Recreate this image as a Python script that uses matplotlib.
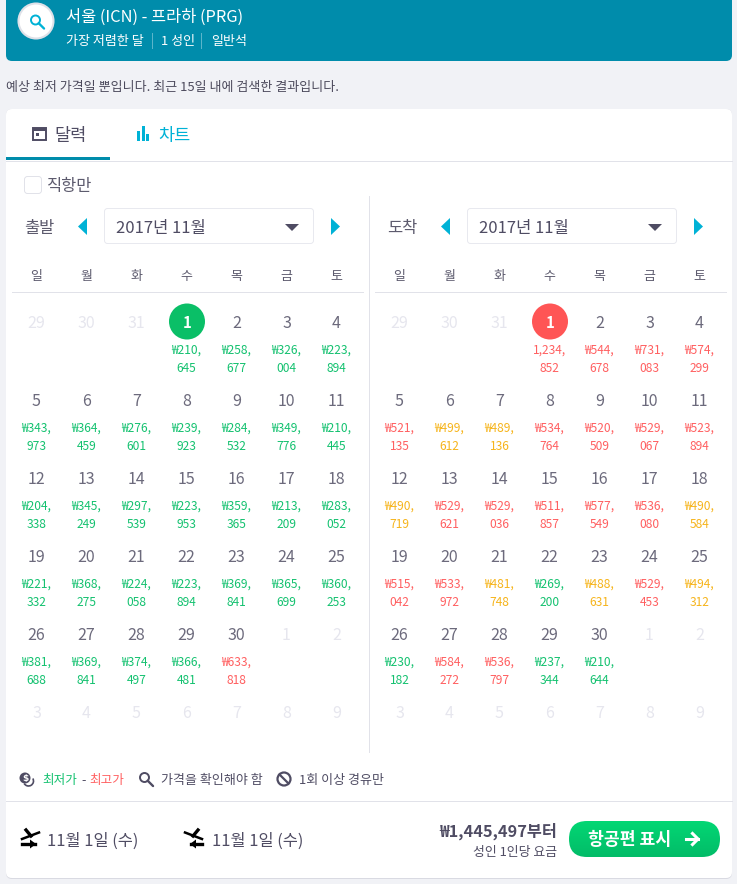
import numpy as np
import matplotlib
matplotlib.use('Agg')
import matplotlib.pyplot as plt
from matplotlib.patches import FancyBboxPatch, Circle, Rectangle, Polygon, Arc

plt.rcParams['font.family'] = ['Noto Sans CJK KR', 'DejaVu Sans']

# Data
weekdays = ['일', '월', '화', '수', '목', '금', '토']
days = [29, 30, 31, 1, 2, 3, 4, 5, 6, 7, 8, 9, 10, 11, 12, 13, 14, 15, 16, 17, 18,
        19, 20, 21, 22, 23, 24, 25, 26, 27, 28, 29, 30, 1, 2, 3, 4, 5, 6, 7, 8, 9]
first_cell = 3
last_cell = 32

depart_prices = ['₩210,645', '₩258,677', '₩326,004', '₩223,894', '₩343,973', '₩364,459',
                 '₩276,601', '₩239,923', '₩284,532', '₩349,776', '₩210,445', '₩204,338',
                 '₩345,249', '₩297,539', '₩223,953', '₩359,365', '₩213,209', '₩283,052',
                 '₩221,332', '₩368,275', '₩224,058', '₩223,894', '₩369,841', '₩365,699',
                 '₩360,253', '₩381,688', '₩369,841', '₩374,497', '₩366,481', '₩633,818']
depart_levels = 'g' * 29 + 'r'

return_prices = ['1,234,852', '₩544,678', '₩731,083', '₩574,299', '₩521,135', '₩499,612',
                 '₩489,136', '₩534,764', '₩520,509', '₩529,067', '₩523,894', '₩490,719',
                 '₩529,621', '₩529,036', '₩511,857', '₩577,549', '₩536,080', '₩490,584',
                 '₩515,042', '₩533,972', '₩481,748', '₩269,200', '₩488,631', '₩529,453',
                 '₩494,312', '₩230,182', '₩584,272', '₩536,797', '₩237,344', '₩210,644']
return_levels = 'rrrr' + 'ryyrrrr' + 'yrrrrry' + 'rrygyry' + 'grrgg'

level_colors = {'g': '#13c16f', 'y': '#f6b41b', 'r': '#ff5f60'}

TEAL = '#008cab'
CYAN = '#00b2d6'
INK = '#4f4c63'
DAY = '#6c6a7c'
FAINT = '#e6e6ee'
LINE = '#e1e2e9'
PX = 0.72


def fs(px):
    return px * PX


def label(ax, x, y, text, size, color=INK, ha='left', weight='normal', z=5):
    # the CJK font sits a little high when centred
    ax.text(x, y + 1.5, text, fontsize=fs(size), color=color, ha=ha, va='center',
            fontweight=weight, zorder=z)


def rounded(ax, x0, y0, x1, y1, r, fc, ec='none', lw=0.0, z=1):
    box = FancyBboxPatch((x0 + r, y0 + r), x1 - x0 - 2 * r, y1 - y0 - 2 * r,
                         boxstyle='round,pad=%f,rounding_size=%f' % (r, r),
                         fc=fc, ec=ec, lw=lw, zorder=z)
    ax.add_patch(box)
    return box


def magnifier(ax, x, y, r, color, lw):
    ax.add_patch(Circle((x, y), r, fc='none', ec=color, lw=lw, zorder=4))
    ax.plot([x + r * 0.7, x + r * 1.9], [y + r * 0.7, y + r * 1.9], color=color,
            lw=lw * 1.2, solid_capstyle='round', zorder=4)


def plane_icon(ax, x, flip):
    # x is the icon centre, s mirrors the glyph for the landing one
    s = -1 if flip else 1
    y = 838
    ax.plot([x - 8 * s, x + 9 * s], [y + 1, y - 5.5], color='black', lw=1.8, zorder=4)
    ax.plot([x - 4 * s, x + 1 * s], [y - 8, y - 2], color='black', lw=2.4, zorder=4)
    tip = x + (5 if not flip else 3) * s
    ax.plot([x - 8 * s, tip], [y + 6, y + 6], color='black', lw=2.4, zorder=4)
    ax.add_patch(Polygon([(tip + 1 * s, y + 6), (tip - 5 * s, y + 1.5), (tip - 5 * s, y + 10.5)],
                         fc='black', ec='none', zorder=4))


def draw_calendar(ax, x_left, line_x, title, prices, levels, circle_color):
    xs = x_left + 50 * np.arange(7)
    ys = 322 + 78 * np.arange(6)

    label(ax, x_left - 13, 227.5, title, 16.5, '#5d5b6e')
    # month selector
    drop = x_left + 67
    rounded(ax, drop + 0.5, 208.5, drop + 209.5, 243.5, 3, 'white', '#e8e9ef', PX, 2)
    label(ax, drop + 12, 227, '2017년 11월', 16.6, INK)
    ax.add_patch(Polygon([(drop + 181, 224), (drop + 195, 224), (drop + 188, 231)],
                         fc=INK, ec='none', zorder=3))
    ax.add_patch(Polygon([(x_left + 50, 218), (x_left + 50, 235), (x_left + 41, 226.5)],
                         fc=CYAN, ec='none', zorder=3))
    ax.add_patch(Polygon([(x_left + 294, 218), (x_left + 294, 235), (x_left + 303, 226.5)],
                         fc=CYAN, ec='none', zorder=3))

    for x, name in zip(xs, weekdays):
        label(ax, x - 0.5, 275, name, 13, '#5d5b6e', 'center')
    ax.plot(line_x, [291.5, 291.5], color=LINE, lw=PX, zorder=2)

    for cell, day in enumerate(days):
        row, col = divmod(cell, 7)
        x, y = xs[col], ys[row]
        if cell < first_cell or cell > last_cell:
            label(ax, x - 0.5, y, str(day), 16, FAINT, 'center')
            continue
        if cell == first_cell:
            ax.add_patch(Circle((x, y - 0.5), 18, fc=circle_color, ec='none', zorder=3))
            label(ax, x, y - 1, str(day), 15, 'white', 'center', 'bold')
        else:
            label(ax, x - 0.5, y, str(day), 16, DAY, 'center')
        price = prices[cell - first_cell]
        color = level_colors[levels[cell - first_cell]]
        head, tail = price.rsplit(',', 1)
        label(ax, x - 0.5, y + 27, head + ',', 12, color, 'center')
        label(ax, x - 0.5, y + 45, tail, 12, color, 'center')


fig = plt.figure(figsize=(7.37, 8.84), dpi=100, facecolor='#f1f2f6')
ax = fig.add_axes([0, 0, 1, 1])
ax.set_xlim(0, 737)
ax.set_ylim(884, 0)
ax.axis('off')

# search summary header
rounded(ax, 6, -20, 732, 61, 6, TEAL)
ax.add_patch(Circle((36, 21), 17.5, fc='white', ec='#dfe1e8', lw=1.5, zorder=3))
magnifier(ax, 35.5, 20, 4.5, CYAN, 1.4)
label(ax, 66, 15.5, '서울 (ICN) - 프라하 (PRG)', 16.4, 'white')
label(ax, 66, 40, '가장 저렴한 달', 13, 'white')
ax.plot([152.5, 152.5], [33, 48], color='#5bb5ca', lw=PX, zorder=3)
label(ax, 161, 40, '1 성인', 13, 'white')
ax.plot([201.5, 201.5], [33, 48], color='#5bb5ca', lw=PX, zorder=3)
label(ax, 211, 40, '일반석', 13, 'white')

label(ax, 6, 85.5, '예상 최저 가격일 뿐입니다. 최근 15일 내에 검색한 결과입니다.', 13, '#4c4a5c')

# main card
rounded(ax, 6, 109, 732, 879, 6, '#d9dae2', z=0.5)
rounded(ax, 6, 109, 732, 878, 6, 'white', z=1)

# tabs
ax.add_patch(Rectangle((33, 128), 13, 11.5, fc='none', ec=INK, lw=1.4, zorder=3))
ax.add_patch(Rectangle((33, 128), 13, 3, fc=INK, ec='none', zorder=3))
ax.add_patch(Rectangle((36, 133), 3, 3, fc=INK, ec='none', zorder=3))
label(ax, 54, 134.5, '달력', 17.5, INK)
for bx, btop in zip([138.5, 143.5, 148], [131, 126, 134]):
    ax.add_patch(Rectangle((bx - 1.5, btop), 3, 140.5 - btop, fc=CYAN, ec='none', zorder=3))
label(ax, 158, 134.5, '차트', 17.5, CYAN)
ax.add_patch(Rectangle((6, 157), 104, 3, fc=TEAL, ec='none', zorder=3))
ax.plot([6, 732], [160.5, 160.5], color=LINE, lw=PX, zorder=2)

# direct only
rounded(ax, 24.5, 176.5, 41.5, 193.5, 3, 'white', LINE, PX, 2)
label(ax, 47, 185, '직항만', 16.5, '#5d5b6e')

draw_calendar(ax, 37, [12, 363], '출발', depart_prices, depart_levels, '#0abf67')
draw_calendar(ax, 400, [375, 726], '도착', return_prices, return_levels, '#ff5555')
ax.plot([369.5, 369.5], [196, 752], color=LINE, lw=PX, zorder=2)

# legend
ax.add_patch(Circle((25, 778), 5.5, fc=INK, ec='none', zorder=3))
ax.text(25, 778, '$', fontsize=fs(9), color='white', ha='center', va='center',
        fontweight='bold', family='DejaVu Sans', zorder=4)
ax.add_patch(Arc((28.5, 781), 10, 10, theta1=-30, theta2=150, ec=INK, lw=1.2, zorder=3))
label(ax, 42, 779, '최저가', 12.6, level_colors['g'])
label(ax, 81, 779, '-', 12.6, INK)
label(ax, 89, 779, '최고가', 12.6, level_colors['r'])
magnifier(ax, 144.5, 777.5, 4.5, INK, 1.4)
label(ax, 161, 779, '가격을 확인해야 함', 13, INK)
ax.add_patch(Circle((284, 779), 6.5, fc='none', ec=INK, lw=1.6, zorder=3))
ax.plot([279.5, 288.5], [774.5, 783.5], color=INK, lw=1.6, zorder=3)
label(ax, 299, 779, '1회 이상 경유만', 13, INK)
ax.plot([6, 732], [800.5, 800.5], color=LINE, lw=PX, zorder=2)

# footer
plane_icon(ax, 30, False)
label(ax, 47, 839.5, '11월 1일 (수)', 16.4, INK)
plane_icon(ax, 194, True)
label(ax, 212, 839.5, '11월 1일 (수)', 16.4, INK)
label(ax, 557, 829.5, '₩1,445,497부터', 16.3, INK, 'right', 'bold')
label(ax, 557, 851, '성인 1인당 요금', 12.9, INK, 'right')

button = rounded(ax, 569, 821, 720, 857, 18, 'none', z=3)
grad = np.linspace(0, 1, 64).reshape(-1, 1)
img = ax.imshow(grad, extent=(569, 720, 857, 821), aspect='auto', zorder=3,
                cmap=matplotlib.colors.LinearSegmentedColormap.from_list('btn', ['#02d774', '#02bc68']))
img.set_clip_path(button)
ax.set_xlim(0, 737)
ax.set_ylim(884, 0)
label(ax, 588, 838.5, '항공편 표시', 17.2, 'white', weight='bold')
ax.plot([686, 698], [839, 839], color='white', lw=2.2, zorder=5)
ax.plot([692.5, 698, 692.5], [833.5, 839, 844.5], color='white', lw=2.2, zorder=5)

fig.savefig('out.png', dpi=100, facecolor=fig.get_facecolor())
